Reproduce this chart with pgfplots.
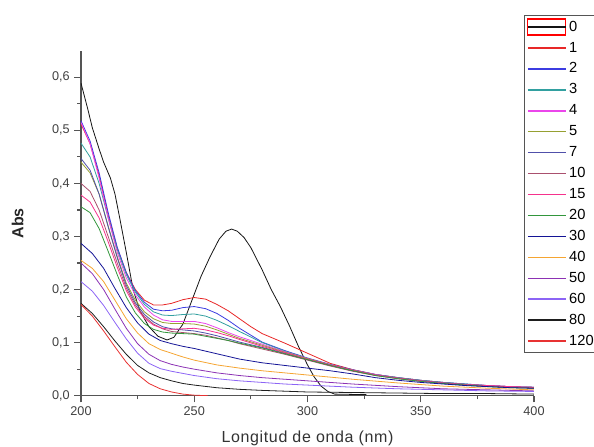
\documentclass[border=0pt]{standalone}
\usepackage{pgfplots}
\pgfplotsset{compat=1.18}
\usepackage{fontspec}
\setmainfont{Liberation Sans}
\definecolor{c0}{RGB}{20,20,20}
\definecolor{c1}{RGB}{232,40,40}
\definecolor{c2}{RGB}{60,60,225}
\definecolor{c3}{RGB}{50,160,160}
\definecolor{c4}{RGB}{235,70,235}
\definecolor{c5}{RGB}{150,160,50}
\definecolor{c7}{RGB}{80,80,170}
\definecolor{c10}{RGB}{170,80,110}
\definecolor{c15}{RGB}{245,50,140}
\definecolor{c20}{RGB}{50,150,60}
\definecolor{c30}{RGB}{20,20,150}
\definecolor{c40}{RGB}{245,165,50}
\definecolor{c50}{RGB}{140,50,180}
\definecolor{c60}{RGB}{140,100,245}
\definecolor{c80}{RGB}{30,30,30}
\definecolor{c120}{RGB}{232,50,50}
\definecolor{axgray}{RGB}{85,85,85}
\begin{document}
\begin{tikzpicture}
\begin{axis}[
  scale only axis,
  width=339.75pt, height=258.7pt,
  xmin=200, xmax=400, ymin=0, ymax=0.65,
  axis x line*=bottom, axis y line*=left,
  axis line style={axgray, line width=0.9pt, -},
  xtick={200,250,...,400}, ytick={0,0.1,...,0.6},
  minor x tick num=1, minor y tick num=1,
  tick align=outside,
  major tick length=5pt, minor tick length=2.8pt,
  tick style={axgray, line width=0.8pt},
  /pgf/number format/assume math mode=true,
  ticklabel style={font=\fontsize{9.5}{11}\selectfont, text=black!75},
  yticklabel style={/pgf/number format/.cd, fixed, fixed zerofill, precision=1, use comma},
  xticklabel style={/pgf/number format/.cd, fixed, precision=0, set thousands separator={}},
  xlabel={\addfontfeature{LetterSpace=4}Longitud de onda (nm)},
  ylabel={\bfseries Abs},
  xlabel style={font=\fontsize{12}{14}\selectfont, text=black!80, yshift=-4.5pt},
  ylabel style={font=\fontsize{12}{14}\selectfont, text=black!85, yshift=14.5pt},
  every axis plot/.append style={line width=0.6pt},
  legend image code/.code={\draw[#1, line width=1.1pt] (0pt,0pt) -- (28.5pt,0pt);},
  legend cell align=left,
  legend style={at={(0.978,1.104)}, anchor=north west, draw=axgray, line width=0.6pt,
    font=\fontsize{11}{13}\selectfont, inner xsep=2pt, inner ysep=1pt,
    nodes={text height=8pt, text depth=2pt, inner ysep=2.85pt, inner xsep=2pt}},
]
\coordinate (O) at (axis cs:200,0);
% 0
\addplot[c0, legend image code/.code={\draw[draw=red, line width=1pt] (0pt,-6pt) rectangle (28.5pt,6pt); \draw[draw=c0, line width=1.1pt] (0pt,0pt) -- (28.5pt,0pt);}] coordinates {
(200,0.589) (203,0.54) (205,0.505) (208,0.465) (210,0.44) (213,0.41) (215,0.38) (217,0.337) (220,0.27) (223,0.2) (226,0.16) (230,0.13) (234,0.112) (238,0.105) (241,0.11) (245,0.135) (249,0.18) (253,0.225) (257,0.262) (261,0.295) (264,0.31) (266.5,0.314) (269,0.31) (272,0.298) (275,0.279) (280,0.237) (284,0.2) (288,0.168) (292,0.132) (296,0.093) (300,0.058) (303,0.035) (306,0.018) (309,0.008) (312,0.003) (326,0.002)};
\addlegendentry{0}
% 1
\addplot[c1] coordinates {
(200,0.512) (204,0.475) (208,0.415) (212,0.34) (216,0.278) (220,0.232) (224,0.2) (228,0.18) (232,0.171) (236,0.171) (240,0.174) (245,0.181) (250,0.185) (255,0.182) (260,0.172) (265,0.16) (270,0.145) (275,0.13) (280,0.117) (290,0.099) (300,0.08) (310,0.061) (320,0.049) (330,0.04) (340,0.034) (350,0.029) (360,0.025) (370,0.021) (380,0.019) (390,0.017) (400,0.015)};
\addlegendentry{1}
% 2
\addplot[c2] coordinates {
(200,0.518) (204,0.48) (208,0.42) (212,0.345) (216,0.28) (220,0.232) (224,0.198) (228,0.176) (232,0.163) (236,0.16) (240,0.161) (245,0.166) (250,0.168) (255,0.164) (260,0.155) (265,0.142) (270,0.127) (280,0.101) (290,0.085) (300,0.071) (310,0.059) (320,0.049) (330,0.04) (340,0.034) (350,0.029) (360,0.025) (370,0.022) (380,0.019) (390,0.017) (400,0.016)};
\addlegendentry{2}
% 3
\addplot[c3] coordinates {
(200,0.476) (204,0.45) (208,0.40) (212,0.335) (216,0.275) (220,0.228) (224,0.195) (228,0.172) (232,0.158) (236,0.152) (240,0.151) (245,0.153) (250,0.154) (255,0.15) (260,0.142) (265,0.132) (270,0.121) (280,0.1) (290,0.084) (300,0.07) (310,0.058) (320,0.048) (330,0.04) (340,0.034) (350,0.029) (360,0.025) (370,0.022) (380,0.019) (390,0.017) (400,0.016)};
\addlegendentry{3}
% 4
\addplot[c4] coordinates {
(200,0.515) (204,0.475) (208,0.41) (212,0.335) (216,0.27) (220,0.222) (224,0.19) (228,0.167) (232,0.152) (236,0.143) (240,0.14) (245,0.14) (250,0.14) (255,0.136) (260,0.128) (265,0.119) (270,0.111) (280,0.097) (290,0.083) (300,0.07) (310,0.058) (320,0.048) (330,0.04) (340,0.033) (350,0.028) (360,0.024) (370,0.021) (380,0.019) (390,0.017) (400,0.015)};
\addlegendentry{4}
% 5
\addplot[c5] coordinates {
(200,0.44) (204,0.42) (208,0.38) (212,0.32) (216,0.262) (220,0.212) (224,0.18) (228,0.158) (232,0.145) (236,0.138) (240,0.136) (245,0.136) (250,0.135) (255,0.131) (260,0.124) (265,0.116) (270,0.108) (280,0.095) (290,0.082) (300,0.07) (310,0.058) (320,0.048) (330,0.039) (340,0.033) (350,0.028) (360,0.024) (370,0.021) (380,0.018) (390,0.016) (400,0.015)};
\addlegendentry{5}
% 7
\addplot[c7] coordinates {
(200,0.447) (204,0.425) (208,0.38) (212,0.318) (216,0.26) (220,0.208) (224,0.175) (228,0.153) (232,0.139) (236,0.13) (240,0.126) (245,0.124) (250,0.122) (255,0.118) (260,0.113) (265,0.107) (270,0.101) (280,0.091) (290,0.08) (300,0.068) (310,0.057) (320,0.047) (330,0.039) (340,0.033) (350,0.028) (360,0.024) (370,0.021) (380,0.018) (390,0.016) (400,0.015)};
\addlegendentry{7}
% 10
\addplot[c10] coordinates {
(200,0.40) (204,0.385) (208,0.35) (212,0.3) (216,0.25) (220,0.203) (224,0.171) (228,0.149) (232,0.135) (236,0.126) (240,0.121) (245,0.119) (250,0.117) (255,0.114) (260,0.109) (265,0.104) (270,0.098) (280,0.088) (290,0.078) (300,0.067) (310,0.056) (320,0.046) (330,0.038) (340,0.032) (350,0.027) (360,0.023) (370,0.02) (380,0.018) (390,0.016) (400,0.015)};
\addlegendentry{10}
% 15
\addplot[c15] coordinates {
(200,0.378) (204,0.365) (208,0.335) (212,0.29) (216,0.242) (220,0.198) (224,0.167) (228,0.146) (232,0.133) (236,0.127) (240,0.125) (245,0.126) (250,0.127) (255,0.124) (260,0.119) (265,0.113) (270,0.106) (280,0.093) (290,0.081) (300,0.069) (310,0.058) (320,0.048) (330,0.039) (340,0.033) (350,0.028) (360,0.024) (370,0.021) (380,0.019) (390,0.017) (400,0.016)};
\addlegendentry{15}
% 20
\addplot[c20] coordinates {
(200,0.356) (204,0.345) (208,0.315) (212,0.272) (216,0.228) (220,0.186) (224,0.156) (228,0.136) (232,0.125) (236,0.12) (240,0.118) (245,0.117) (250,0.116) (255,0.112) (260,0.108) (265,0.104) (270,0.099) (280,0.09) (290,0.079) (300,0.068) (310,0.057) (320,0.047) (330,0.038) (340,0.032) (350,0.027) (360,0.023) (370,0.02) (380,0.017) (390,0.015) (400,0.014)};
\addlegendentry{20}
% 30
\addplot[c30] coordinates {
(200,0.287) (205,0.268) (210,0.24) (215,0.202) (220,0.166) (225,0.137) (230,0.116) (235,0.104) (240,0.098) (245,0.093) (250,0.089) (255,0.084) (260,0.079) (265,0.074) (270,0.069) (280,0.062) (290,0.057) (300,0.052) (310,0.047) (320,0.041) (330,0.034) (340,0.029) (350,0.025) (360,0.022) (370,0.019) (380,0.017) (390,0.015) (400,0.014)};
\addlegendentry{30}
% 40
\addplot[c40] coordinates {
(200,0.255) (205,0.24) (210,0.215) (215,0.18) (220,0.145) (225,0.118) (230,0.098) (235,0.087) (240,0.08) (245,0.073) (250,0.067) (260,0.058) (270,0.052) (280,0.047) (290,0.043) (300,0.039) (310,0.035) (320,0.031) (340,0.024) (360,0.018) (380,0.014) (400,0.011)};
\addlegendentry{40}
% 50
\addplot[c50] coordinates {
(200,0.25) (205,0.23) (210,0.2) (215,0.163) (220,0.127) (225,0.098) (230,0.078) (235,0.066) (240,0.059) (245,0.054) (250,0.05) (260,0.043) (270,0.038) (280,0.034) (290,0.031) (300,0.028) (310,0.025) (320,0.022) (340,0.017) (360,0.013) (380,0.011) (400,0.009)};
\addlegendentry{50}
% 60
\addplot[c60] coordinates {
(200,0.215) (205,0.197) (210,0.17) (215,0.138) (220,0.107) (225,0.08) (230,0.061) (235,0.051) (240,0.046) (245,0.042) (250,0.038) (260,0.032) (270,0.028) (280,0.025) (290,0.022) (300,0.02) (310,0.018) (320,0.016) (340,0.013) (360,0.011) (380,0.009) (400,0.008)};
\addlegendentry{60}
% 80
\addplot[c80] coordinates {
(200,0.174) (205,0.155) (210,0.13) (215,0.103) (220,0.078) (225,0.057) (230,0.043) (235,0.034) (240,0.028) (245,0.023) (250,0.02) (260,0.015) (270,0.012) (280,0.01) (300,0.007) (320,0.006) (340,0.005) (360,0.004) (380,0.004) (400,0.003)};
\addlegendentry{80}
% 120
\addplot[c120] coordinates {
(200,0.172) (205,0.15) (210,0.122) (215,0.092) (220,0.063) (225,0.04) (230,0.023) (235,0.013) (240,0.007) (245,0.003) (250,0.001) (256,0.0)};
\addlegendentry{120}
\end{axis}
\pgfresetboundingbox
\path[use as bounding box] ([shift={(-60.75pt,-38.475pt)}]O) rectangle ([shift={(384.75pt,296.775pt)}]O);
\end{tikzpicture}
\end{document}
